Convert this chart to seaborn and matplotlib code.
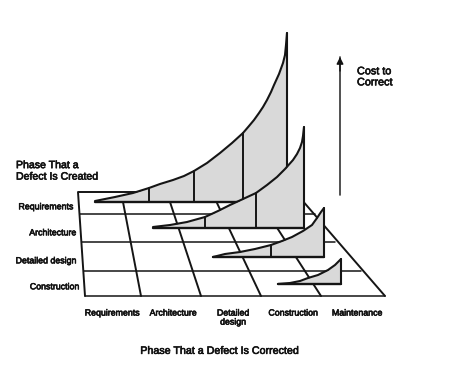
import matplotlib
matplotlib.use("Agg")
import matplotlib.pyplot as plt
import matplotlib.patheffects as pe
import seaborn as sns

sns.set_theme(style="white")
plt.rcParams['font.family'] = ['Liberation Sans', 'DejaVu Sans']
plt.rcParams['text.hinting'] = 'none'

# Curves (x position, cost height on picture scale)
req_x = [95, 115, 133, 149, 160, 173, 184, 194, 207, 220, 232, 243, 249, 254, 259, 263, 267, 271, 274, 279, 283, 285, 286, 287]
req_y = [201, 197, 193, 188, 184, 180, 176, 171, 163, 153, 143, 133, 126, 120, 113, 107, 100, 92, 85, 74, 63, 55, 45, 33]
arc_x = [153, 170, 187, 205, 218, 230, 243, 256, 267, 277, 285, 293, 297, 300, 302, 303, 304]
arc_y = [227, 225, 222, 217, 211, 205, 199, 193, 185, 177, 169, 160, 154, 148, 142, 136, 127]
det_x = [213, 225, 240, 255, 271, 282, 292, 303, 312, 317, 321, 324]
det_y = [257, 254, 252, 249, 245, 241, 237, 231, 225, 218, 212, 208]
con_x = [278, 290, 300, 308, 318, 328, 335, 339, 341]
con_y = [284, 283, 281, 278, 275, 270, 265, 261, 259]

# Baselines and dividers
bases = [202, 228, 257, 284]
div_x = [[149, 194, 243], [205, 256], [271], []]
div_top = [[188, 171, 133], [217, 193], [245], []]

# Floor grid
row_y = [214, 242, 271, 296]
row_left = [80, 82, 84, 85]
row_right = [315, 335, 361, 385]
col_top_x = [123, 170, 217, 254]
col_top_y = [202, 202, 203, 192]
col_bot_x = [141, 201, 261, 321]
col_bot_y = [296, 296, 296, 296]
floor_x = [85, 78, 295, 385]
floor_y = [296, 192, 192, 296]

# Text
created = ["Requirements", "Architecture", "Detailed design", "Construction"]
created_x = [73, 76, 76, 79]
created_y = [207, 233, 261, 287]
corrected = ["Requirements", "Architecture", "Detailed\ndesign", "Construction", "Maintenance"]
corrected_x = [112, 173, 233, 293, 357]
axis_y = [57, 195]
axis_x = [340, 340]

fig = plt.figure(figsize=(4.5, 3.65), dpi=100)
ax = fig.add_axes([0, 0, 1, 1])
ax.set_xlim(0, 450)
ax.set_ylim(365, 0)
ax.axis("off")
K = "#151515"
FILL = "#d9d9d9"
BOLDISH = [pe.withStroke(linewidth=0.45, foreground="#111111")]


def seg(xs, ys, lw=1.5, color=K, z=2):
    sns.lineplot(x=xs, y=ys, sort=False, estimator=None, color=color, lw=lw,
                 ax=ax, zorder=z, legend=False, solid_capstyle="round")


seg(floor_x, floor_y, 1.4, z=1)
for l, r, y in zip(row_left, row_right, row_y):
    seg([l, r], [y, y], 1.1, z=1)
for a, b, c, d in zip(col_top_x, col_top_y, col_bot_x, col_bot_y):
    seg([a, c], [b, d], 1.4, z=1)

curves = [(req_x, req_y), (arc_x, arc_y), (det_x, det_y), (con_x, con_y)]
for i, ((cx, cy), base) in enumerate(zip(curves, bases)):
    z = 3 + i
    ax.fill_between(cx, cy, [base] * len(cx), color=FILL, lw=0, zorder=z)
    for dx, dt in zip(div_x[i], div_top[i]):
        seg([dx, dx], [dt, base], 1.4, z=z)
    seg([cx[0], cx[-1]], [base, base], 1.7, z=z)
    seg([cx[-1], cx[-1]], [cy[-1], base], 1.5, z=z)
    seg(cx, cy, 1.5, z=z)

seg(axis_x, axis_y, 1.2, color="#333333")
ax.annotate("", xy=(axis_x[0], axis_y[0]), xytext=(axis_x[0], axis_y[0] + 14),
            arrowprops=dict(arrowstyle="-|>", color="#111111", lw=1.0, mutation_scale=10,
                            shrinkA=0, shrinkB=0))

for s, x, y in zip(created, created_x, created_y):
    ax.text(x, y, s, ha="right", va="center", color="#111111", fontsize=6.35, path_effects=BOLDISH)
for s, x in zip(corrected, corrected_x):
    ax.text(x, 309, s, ha="center", va="top", color="#111111",
            fontsize=6.35, linespacing=1.1, path_effects=BOLDISH)
ax.text(16, 171, "Phase That a\nDefect Is Created", ha="left", va="center", color="#111111",
        fontsize=7.6, linespacing=1.15, path_effects=BOLDISH)
ax.text(357, 77, "Cost to\nCorrect", ha="left", va="center", color="#111111",
        fontsize=7.8, linespacing=1.1, path_effects=BOLDISH)
ax.text(219, 351, "Phase That a Defect Is Corrected", ha="center", va="center", color="#111111",
        fontsize=7.7, path_effects=BOLDISH)
fig.savefig("out.png", dpi=100, facecolor="white")
